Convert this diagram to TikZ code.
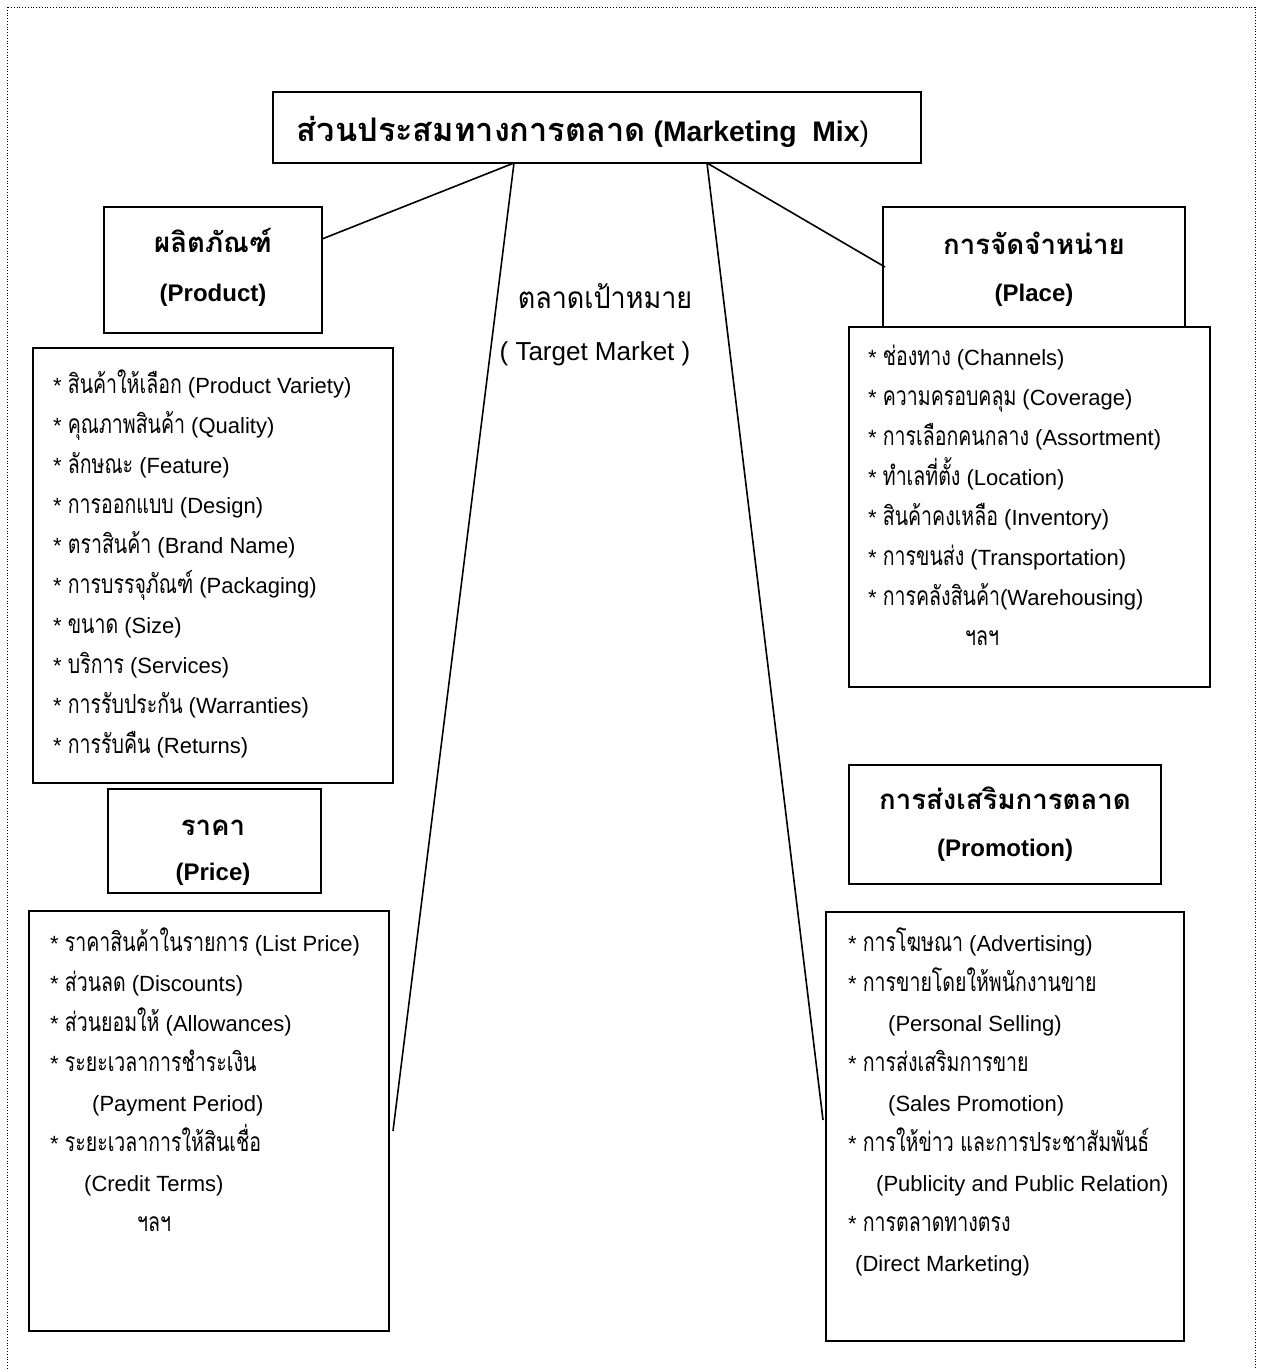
\documentclass[tikz,border=0pt]{standalone}
\usepackage{fontspec}
\setmainfont{Liberation Sans}
\newfontfamily\thaifont[Script=Thai,Scale=1.2,FakeStretch=0.74]{Loma}
\newfontfamily\thaiwide[Script=Thai,Scale=1.15]{Loma}
\newfontfamily\thaitarget[Script=Thai,Scale=1.15,FakeStretch=0.9]{Loma}
\newcommand\thx[1]{{\thaifont #1}}
\newcommand\thb[1]{{\thaiwide #1}}
\newcommand\boxat[5]{\node[box,minimum width={(#4)-(#2)},minimum height={(#5)-(#3)}] (#1) at ({((#2)+(#4))/2},{((#3)+(#5))/2}) {};}
\tikzset{
  box/.style={draw, line width=1.6pt, inner sep=0pt},
  item/.style={anchor=base west, inner sep=0pt, font=\fontsize{22}{27}\selectfont},
  head/.style={anchor=base, inner sep=0pt, font=\fontsize{24}{29}\selectfont\bfseries},
  link/.style={line width=1.6pt},
  frame/.style={dotted, line width=0.8pt}
}
\begin{document}
\begin{tikzpicture}[x=1pt,y=-1pt]
\useasboundingbox (0,0) rectangle (1261,1369);
\draw[frame] (7,7) rectangle (1255,1385);
% boxes
\boxat{main}{273}{92}{921}{163}
\boxat{product}{104}{207}{322}{333}
\boxat{productlist}{33}{348}{393}{783}
\boxat{price}{108}{789}{321}{893}
\boxat{pricelist}{29}{911}{389}{1331}
\boxat{place}{883}{207}{1185}{327}
\boxat{placelist}{849}{327}{1210}{687}
\boxat{promo}{849}{765}{1161}{884}
\boxat{promolist}{826}{912}{1184}{1341}
% title
\node[anchor=base,inner sep=0pt,font=\fontsize{28.3}{34}\selectfont] (title) at (583,141)
  {\bfseries\thb{ส่วนประสมทางการตลาด} (Marketing\ \ Mix\mdseries)};
% target market
\node[anchor=base,inner sep=0pt,font=\fontsize{26}{32}\selectfont] (tm1) at (605,308) {\thaitarget ตลาดเป้าหมาย};
\node[anchor=base,inner sep=0pt,font=\fontsize{26}{32}\selectfont] (tm2) at (595,360) {( Target Market )};
% connectors
\coordinate (mA) at (514,163);
\coordinate (mB) at (707,163);
\coordinate (eA) at (322,239);
\coordinate (eB) at (393,1131);
\coordinate (eC) at (885,267);
\coordinate (eD) at (823,1120);
\draw[link] (mA) -- (eA);
\draw[link] (mA) -- (eB);
\draw[link] (mB) -- (eC);
\draw[link] (mB) -- (eD);
% headers
\node[head] (h1a) at (213,252) {\thb{ผลิตภัณฑ์}};
\node[head] (h1b) at (213,301) {(Product)};
\node[head] (h2a) at (1034,254) {\thb{การจัดจำหน่าย}};
\node[head] (h2b) at (1034,301) {(Place)};
\node[head] (h3a) at (213,835) {\thb{ราคา}};
\node[head] (h3b) at (213,880) {(Price)};
\node[head] (h4a) at (1005,809) {\thb{การส่งเสริมการตลาด}};
\node[head] (h4b) at (1005,856) {(Promotion)};
% product list
\node[item] (p1) at (53,393) {* \thx{สินค้าให้เลือก} (Product Variety)};
\node[item] (p2) at (53,433) {* \thx{คุณภาพสินค้า} (Quality)};
\node[item] (p3) at (53,473) {* \thx{ลักษณะ} (Feature)};
\node[item] (p4) at (53,513) {* \thx{การออกแบบ} (Design)};
\node[item] (p5) at (53,553) {* \thx{ตราสินค้า} (Brand Name)};
\node[item] (p6) at (53,593) {* \thx{การบรรจุภัณฑ์} (Packaging)};
\node[item] (p7) at (53,633) {* \thx{ขนาด} (Size)};
\node[item] (p8) at (53,673) {* \thx{บริการ} (Services)};
\node[item] (p9) at (53,713) {* \thx{การรับประกัน} (Warranties)};
\node[item] (p10) at (53,753) {* \thx{การรับคืน} (Returns)};
% place list
\node[item] (q1) at (868,365) {* \thx{ช่องทาง} (Channels)};
\node[item] (q2) at (868,405) {* \thx{ความครอบคลุม} (Coverage)};
\node[item] (q3) at (868,445) {* \thx{การเลือกคนกลาง} (Assortment)};
\node[item] (q4) at (868,485) {* \thx{ทำเลที่ตั้ง} (Location)};
\node[item] (q5) at (868,525) {* \thx{สินค้าคงเหลือ} (Inventory)};
\node[item] (q6) at (868,565) {* \thx{การขนส่ง} (Transportation)};
\node[item] (q7) at (868,605) {* \thx{การคลังสินค้า}(Warehousing)};
\node[item] (q8) at (965,645) {\thx{ฯลฯ}};
% price list
\node[item] (r1) at (50,951) {* \thx{ราคาสินค้าในรายการ} (List Price)};
\node[item] (r2) at (50,991) {* \thx{ส่วนลด} (Discounts)};
\node[item] (r3) at (50,1031) {* \thx{ส่วนยอมให้} (Allowances)};
\node[item] (r4) at (50,1071) {* \thx{ระยะเวลาการชำระเงิน}};
\node[item] (r5) at (92,1111) {(Payment Period)};
\node[item] (r6) at (50,1151) {* \thx{ระยะเวลาการให้สินเชื่อ}};
\node[item] (r7) at (84,1191) {(Credit Terms)};
\node[item] (r8) at (137,1231) {\thx{ฯลฯ}};
% promotion list
\node[item] (s1) at (848,951) {* \thx{การโฆษณา} (Advertising)};
\node[item] (s2) at (848,991) {* \thx{การขายโดยให้พนักงานขาย}};
\node[item] (s3) at (888,1031) {(Personal Selling)};
\node[item] (s4) at (848,1071) {* \thx{การส่งเสริมการขาย}};
\node[item] (s5) at (888,1111) {(Sales Promotion)};
\node[item] (s6) at (848,1151) {* \thx{การให้ข่าว และการประชาสัมพันธ์}};
\node[item] (s7) at (876,1191) {(Publicity and Public Relation)};
\node[item] (s8) at (848,1231) {* \thx{การตลาดทางตรง}};
\node[item] (s9) at (855,1271) {(Direct Marketing)};
\end{tikzpicture}
\end{document}
